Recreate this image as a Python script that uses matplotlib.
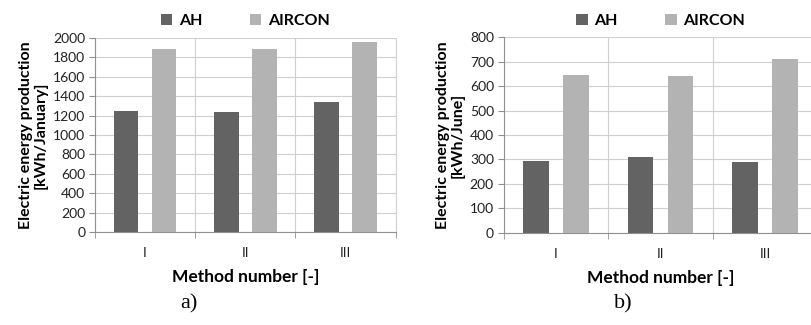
import numpy as np
import matplotlib
matplotlib.use("Agg")
import matplotlib.pyplot as plt

methods = ["I", "II", "III"]
series = ["AH", "AIRCON"]
jan_ah = [1250, 1240, 1340]
jan_aircon = [1890, 1890, 1960]
jun_ah = [292, 311, 291]
jun_aircon = [644, 640, 712]

c_ah = "#636363"
c_air = "#b3b3b3"
grid_c = "#d0d0d0"
axis_c = "#909090"

plt.rcParams["font.family"] = ["Lato", "DejaVu Sans"]

fig = plt.figure(figsize=(8.11, 3.25), dpi=100)


def panel(rect, ah, air, ymax, ystep, ylabel, tag, tag_x):
    ax = fig.add_axes(rect)
    x = np.arange(len(methods))
    ax.bar(x - 0.19, ah, 0.245, color=c_ah, label=series[0], zorder=3)
    ax.bar(x + 0.19, air, 0.245, color=c_air, label=series[1], zorder=3)
    ax.set_xlim(-0.5, len(methods) - 0.5)
    ax.set_ylim(0, ymax)
    ax.set_yticks(np.arange(0, ymax + 1, ystep))
    ax.set_xticks(x)
    ax.set_xticklabels(methods)
    ax.set_xticks(np.arange(-0.5, len(methods), 1.0), minor=True)
    ax.tick_params(axis="x", which="major", length=0, pad=11, labelsize=10,
                   labelcolor="#222222")
    ax.tick_params(axis="x", which="minor", length=4, color=axis_c, direction="out")
    ax.tick_params(axis="y", length=4, color=axis_c, labelsize=10,
                   labelcolor="#222222", pad=3)
    ax.grid(True, axis="y", color=grid_c, lw=0.8, zorder=0)
    ax.grid(True, axis="x", which="minor", color=grid_c, lw=0.8, zorder=0)
    ax.spines["top"].set_visible(False)
    ax.spines["right"].set_color(grid_c)
    ax.spines["left"].set_color(axis_c)
    ax.spines["bottom"].set_color(axis_c)
    ax.set_ylabel(ylabel, fontsize=11.5, fontweight="bold", labelpad=4,
                  linespacing=1.05)
    ax.set_xlabel("Method number [-]", fontsize=12.5, fontweight="bold", labelpad=7)
    ax.legend(loc="lower center", bbox_to_anchor=(0.5, 1.0), ncol=2, frameon=False,
              handlelength=0.7, handleheight=0.7, handletextpad=0.4,
              columnspacing=3.0, prop={"weight": "bold", "size": 11.5},
              borderaxespad=0.2)
    fig.text(tag_x, 0.035, tag, family="Liberation Serif", fontsize=16,
             ha="center", va="bottom")
    return ax


panel([0.117, 0.286, 0.371, 0.597], jan_ah, jan_aircon, 2000, 200,
      "Electric energy production\n[kWh/January]", "a)", 0.233)
panel([0.621, 0.284, 0.387, 0.601], jun_ah, jun_aircon, 800, 100,
      "Electric energy production\n[kWh/June]", "b)", 0.768)

fig.savefig("out.png", dpi=100)
